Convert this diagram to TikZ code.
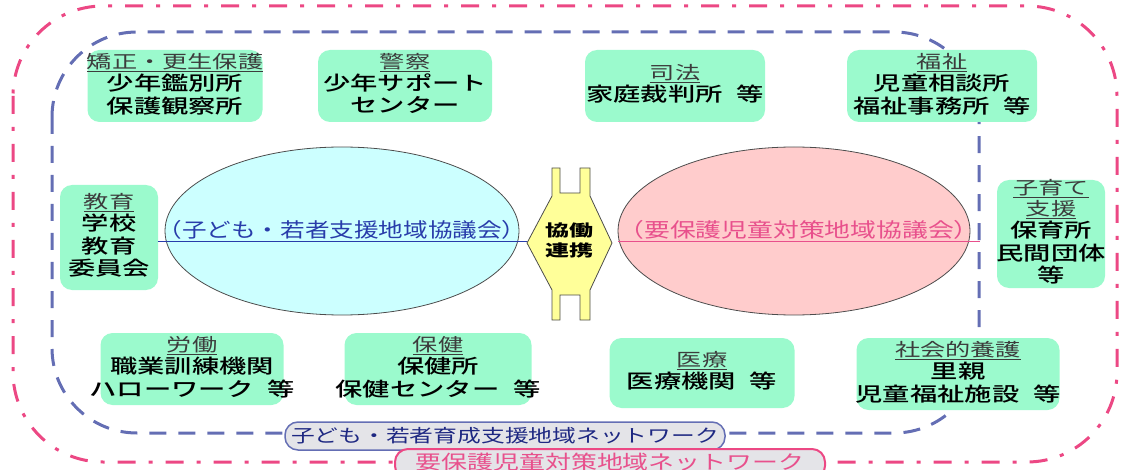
\documentclass[tikz,border=0pt]{standalone}
\usepackage{fontspec}
\usepackage{graphicx}
\newfontfamily\jp{Noto Sans CJK JP}
\newfontfamily\jpm{Noto Sans CJK JP Medium}
\usetikzlibrary{shapes.geometric}
\definecolor{mint}{RGB}{155,250,205}
\definecolor{cyanfill}{RGB}{204,255,255}
\definecolor{pinkfill}{RGB}{255,204,204}
\definecolor{hexfill}{RGB}{255,255,153}
\definecolor{pinkline}{RGB}{236,72,132}
\definecolor{blueline}{RGB}{100,110,180}
\definecolor{hdcol}{RGB}{60,60,60}
\definecolor{bluetext}{RGB}{40,60,170}
\definecolor{darkblue}{RGB}{30,40,130}
\definecolor{pinktext}{RGB}{232,80,140}
\definecolor{labelgray}{RGB}{228,228,232}
\newcommand{\hdr}[1]{{\jp\fontsize{18}{20}\selectfont\color{hdcol}\underline{#1}}}
\newcommand{\stk}[1]{\scalebox{1.4}[1]{\begin{tabular}{@{}c@{}}#1\end{tabular}}}
\newcommand{\sx}[2]{\scalebox{#1}[1]{#2}}
\tikzset{
  gbox/.style={fill=mint, rounded corners=12pt, inner sep=0pt},
  txt/.style={font=\jpm\fontsize{19.5}{20}\selectfont, inner sep=0pt, text=black},
  pinkdash/.style={draw=pinkline, line width=3pt, dash pattern=on 18pt off 13pt on 4pt off 13pt},
  bluedash/.style={draw=blueline, line width=3pt, dash pattern=on 17pt off 12pt},
  ell/.style={ellipse, draw=black!70, line width=0.8pt, inner sep=0pt},
  ellt/.style={font=\jp\fontsize{20}{20}\selectfont, inner sep=0pt},
}
\begin{document}
\begin{tikzpicture}[x=1pt,y=-1pt]
\useasboundingbox (0,0) rectangle (1121,470);
% network outlines
\draw[pinkdash, rounded corners=90pt] (13,6) rectangle (1117,462);
\draw[bluedash, rounded corners=85pt] (52,32) rectangle (979,433);
% green boxes
\node[gbox, minimum width=175pt, minimum height=72pt] (b1) at (175,86) {};
\node[gbox, minimum width=174pt, minimum height=72pt] (b2) at (405,86) {};
\node[gbox, minimum width=180pt, minimum height=72pt] (b3) at (675,86) {};
\node[gbox, minimum width=190pt, minimum height=72pt] (b4) at (942,86) {};
\node[gbox, minimum width=98pt, minimum height=105pt] (b5) at (109,237.5) {};
\node[gbox, minimum width=108pt, minimum height=108pt] (b6) at (1051,234) {};
\node[gbox, minimum width=183pt, minimum height=72pt] (b7) at (192,369) {};
\node[gbox, minimum width=187pt, minimum height=72pt] (b8) at (438,369) {};
\node[gbox, minimum width=185pt, minimum height=70pt] (b9) at (702,373) {};
\node[gbox, minimum width=203pt, minimum height=72pt] (b10) at (958,374) {};
\node[txt] (t1) at (b1) {\stk{\hdr{矯正・更生保護}\\少年鑑別所\\保護観察所}};
\node[txt] (t2) at (b2) {\stk{\hdr{警察}\\少年サポート\\センター}};
\node[txt] (t3) at (b3) {\stk{\hdr{司法}\\家庭裁判所\hspace{0.5em}等}};
\node[txt] (t4) at (b4) {\stk{\hdr{福祉}\\児童相談所\\福祉事務所\hspace{0.5em}等}};
\node[txt] (t5) at (b5) {\stk{\hdr{教育}\\学校\\教育\\委員会}};
\node[txt] (t6) at (b6) {\stk{\hdr{子育て}\\\hdr{支援}\\保育所\\民間団体\\等}};
\node[txt] (t7) at (b7) {\stk{\hdr{労働}\\職業訓練機関\\ハローワーク\hspace{0.5em}等}};
\node[txt] (t8) at (b8) {\stk{\hdr{保健}\\保健所\\保健センター\hspace{0.5em}等}};
\node[txt] (t9) at (b9) {\stk{\hdr{医療}\\医療機関\hspace{0.5em}等}};
\node[txt] (t10) at (b10) {\stk{\hdr{社会的養護}\\里親\\児童福祉施設\hspace{0.5em}等}};
% ellipses
\node[ell, fill=cyanfill, minimum width=354pt, minimum height=168pt] (e1) at (342,231) {};
\node[ell, fill=pinkfill, minimum width=352pt, minimum height=168pt] (e2) at (794,231) {};
\node[ellt, text=bluetext] (e1t) at (342,231) {\sx{1.23}{\underline{（子ども・若者支援地域協議会）}}};
\node[ellt, text=pinktext] (e2t) at (799,231) {\sx{1.29}{\underline{（要保護児童対策地域協議会）}}};
% collaboration shape
\draw[fill=hexfill, draw=black!70, line width=0.8pt]
  (527,243) -- (552,196) -- (552,168) -- (560,168) -- (560,193) -- (580,193) -- (580,168)
  -- (590,168) -- (590,196) -- (612,243) -- (590,290) -- (590,320) -- (580,320) -- (580,295)
  -- (560,295) -- (560,320) -- (552,320) -- (552,290) -- cycle;
\node[txt, font=\jp\bfseries\fontsize{16}{20}\selectfont] (hx) at (569,243) {\sx{1.5}{\begin{tabular}{@{}c@{}}協働\\連携\end{tabular}}};
% network labels
\node[draw=blueline, line width=1.5pt, fill=labelgray, rounded corners=13pt, minimum width=440pt, minimum height=28pt, inner sep=0pt] (l1) at (505,436) {};
\node[font=\jp\fontsize{18}{20}\selectfont, text=darkblue, inner sep=0pt] (l1t) at (l1) {\sx{1.32}{子ども・若者育成支援地域ネットワーク}};
\node[draw=pinkline, line width=2pt, fill=labelgray, rounded corners=13pt, minimum width=430pt, minimum height=30pt, inner sep=0pt] (l2) at (610,464) {};
\node[font=\jp\fontsize{19.5}{20}\selectfont, text=pinktext, inner sep=0pt] (l2t) at (610,462) {\sx{1.33}{要保護児童対策地域ネットワーク}};
\end{tikzpicture}
\end{document}
